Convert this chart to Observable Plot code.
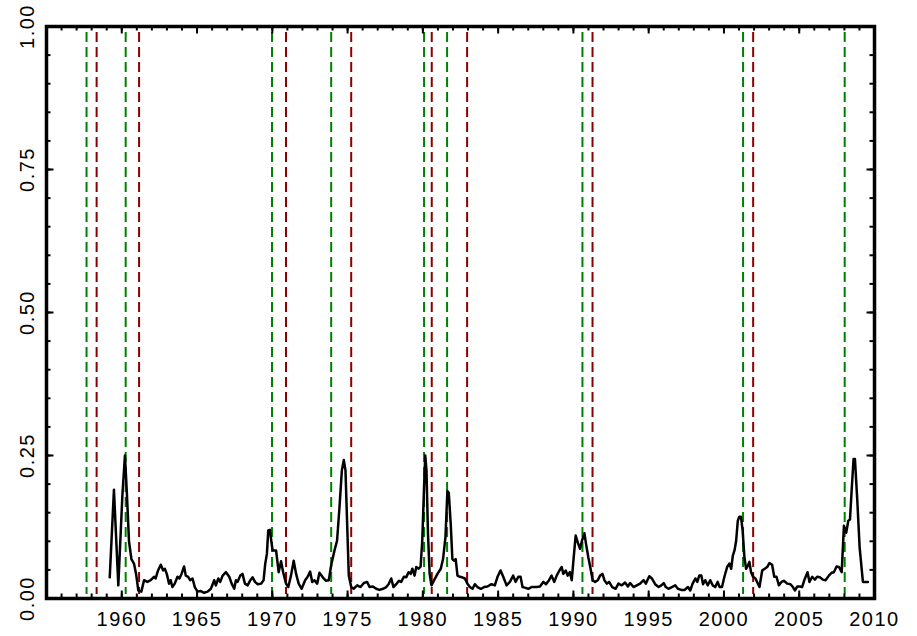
<!DOCTYPE html>
<html><head><meta charset="utf-8">
<script src="https://cdn.jsdelivr.net/npm/d3@7"></script>
<script src="https://cdn.jsdelivr.net/npm/@observablehq/plot@0.6"></script>
<style>body{margin:0;background:#fff}</style>
</head><body><div id="chart"></div>
<script>
const years = [1959.2,1959.48,1959.77,1960.04,1960.21,1960.33,1960.48,1960.64,1960.81,1960.95,1961.1,1961.3,1961.48,1961.7,1961.92,1962.14,1962.25,1962.41,1962.59,1962.75,1962.86,1962.99,1963.14,1963.25,1963.36,1963.52,1963.7,1963.83,1963.97,1964.14,1964.25,1964.41,1964.54,1964.7,1964.85,1965.03,1965.25,1965.47,1965.7,1965.92,1966.14,1966.25,1966.41,1966.54,1966.7,1966.92,1967.14,1967.3,1967.47,1967.58,1967.69,1967.87,1968.02,1968.18,1968.36,1968.54,1968.69,1968.85,1969.03,1969.25,1969.42,1969.53,1969.64,1969.73,1969.84,1969.93,1970.02,1970.25,1970.42,1970.58,1970.72,1970.91,1971.06,1971.24,1971.42,1971.58,1971.75,1971.95,1972.18,1972.35,1972.51,1972.65,1972.8,1972.98,1973.13,1973.35,1973.57,1973.75,1973.91,1974.13,1974.3,1974.46,1974.62,1974.75,1974.86,1974.97,1975.08,1975.24,1975.4,1975.64,1975.86,1976.08,1976.3,1976.46,1976.68,1976.9,1977.12,1977.35,1977.57,1977.72,1977.9,1978.05,1978.23,1978.41,1978.56,1978.74,1978.9,1979.05,1979.19,1979.3,1979.45,1979.56,1979.72,1979.85,1979.96,1980.07,1980.16,1980.24,1980.34,1980.45,1980.57,1980.75,1980.97,1981.19,1981.34,1981.5,1981.63,1981.72,1981.85,1981.96,1982.07,1982.18,1982.3,1982.46,1982.61,1982.79,1982.96,1983.12,1983.3,1983.45,1983.63,1983.85,1984.07,1984.29,1984.56,1984.78,1984.96,1985.16,1985.34,1985.56,1985.78,1986.0,1986.16,1986.34,1986.49,1986.62,1986.77,1987.0,1987.22,1987.56,1987.78,1988.0,1988.18,1988.38,1988.55,1988.73,1988.89,1989.07,1989.22,1989.33,1989.49,1989.62,1989.76,1989.89,1990.02,1990.15,1990.29,1990.44,1990.57,1990.73,1990.84,1990.99,1991.14,1991.28,1991.44,1991.62,1991.77,1991.93,1992.06,1992.22,1992.37,1992.58,1992.8,1992.99,1993.21,1993.43,1993.62,1993.77,1993.99,1994.21,1994.43,1994.66,1994.81,1995.04,1995.21,1995.43,1995.66,1995.84,1996.0,1996.14,1996.31,1996.54,1996.76,1996.94,1997.16,1997.38,1997.61,1997.76,1997.92,1998.1,1998.23,1998.36,1998.5,1998.61,1998.76,1998.92,1999.09,1999.25,1999.42,1999.58,1999.71,1999.87,2000.03,2000.21,2000.36,2000.48,2000.59,2000.7,2000.81,2000.92,2001.02,2001.13,2001.24,2001.36,2001.47,2001.6,2001.69,2001.8,2001.93,2002.09,2002.36,2002.54,2002.71,2002.87,2003.02,2003.2,2003.34,2003.49,2003.65,2003.82,2003.98,2004.2,2004.42,2004.58,2004.71,2004.87,2005.05,2005.19,2005.35,2005.55,2005.68,2005.86,2006.04,2006.19,2006.37,2006.57,2006.75,2006.97,2007.15,2007.3,2007.48,2007.64,2007.82,2007.97,2008.12,2008.26,2008.37,2008.48,2008.61,2008.7,2008.86,2009.01,2009.23,2009.45,2009.56];
const values = [0.037,0.19,0.023,0.18,0.25,0.189,0.10,0.069,0.061,0.043,0.014,0.012,0.032,0.029,0.032,0.038,0.035,0.049,0.059,0.049,0.052,0.043,0.026,0.032,0.020,0.026,0.038,0.035,0.043,0.056,0.040,0.038,0.032,0.035,0.020,0.012,0.013,0.010,0.012,0.017,0.032,0.023,0.035,0.029,0.040,0.046,0.038,0.026,0.017,0.032,0.029,0.040,0.043,0.026,0.023,0.032,0.037,0.029,0.025,0.026,0.032,0.061,0.078,0.119,0.120,0.101,0.084,0.084,0.046,0.065,0.046,0.026,0.020,0.040,0.066,0.043,0.026,0.017,0.032,0.038,0.047,0.029,0.032,0.026,0.045,0.037,0.031,0.032,0.058,0.084,0.101,0.159,0.224,0.242,0.224,0.131,0.040,0.020,0.017,0.023,0.020,0.027,0.029,0.020,0.021,0.017,0.015,0.017,0.020,0.025,0.035,0.020,0.025,0.031,0.029,0.038,0.037,0.046,0.043,0.052,0.040,0.055,0.052,0.056,0.101,0.188,0.250,0.224,0.113,0.043,0.023,0.032,0.043,0.052,0.069,0.107,0.188,0.185,0.131,0.069,0.066,0.069,0.040,0.038,0.037,0.035,0.026,0.020,0.017,0.025,0.020,0.017,0.020,0.021,0.025,0.023,0.038,0.049,0.038,0.023,0.029,0.040,0.029,0.038,0.038,0.020,0.019,0.017,0.020,0.020,0.021,0.029,0.025,0.032,0.040,0.029,0.040,0.049,0.055,0.043,0.049,0.040,0.046,0.032,0.072,0.110,0.098,0.087,0.101,0.114,0.095,0.072,0.052,0.032,0.029,0.032,0.040,0.043,0.032,0.026,0.029,0.020,0.017,0.026,0.023,0.028,0.021,0.027,0.020,0.023,0.026,0.032,0.026,0.039,0.035,0.025,0.020,0.023,0.027,0.020,0.017,0.020,0.023,0.017,0.015,0.015,0.020,0.014,0.026,0.035,0.029,0.040,0.040,0.025,0.032,0.023,0.032,0.023,0.020,0.029,0.020,0.020,0.038,0.055,0.061,0.052,0.075,0.084,0.101,0.136,0.143,0.143,0.119,0.072,0.052,0.058,0.064,0.046,0.038,0.035,0.020,0.049,0.052,0.055,0.062,0.059,0.038,0.038,0.023,0.029,0.031,0.026,0.025,0.020,0.014,0.021,0.021,0.020,0.033,0.046,0.029,0.038,0.033,0.038,0.037,0.033,0.032,0.040,0.045,0.046,0.056,0.055,0.046,0.127,0.115,0.136,0.138,0.188,0.244,0.244,0.170,0.090,0.029,0.029,0.029];
const peaks = [1957.66, 1960.26, 1969.98, 1973.91, 1980.08, 1981.61, 1990.6, 2001.27, 2008.02];
const troughs = [1958.33, 1961.15, 1970.91, 1975.24, 1980.59, 1982.94, 1991.27, 2001.94];
const xTicks = [1960, 1965, 1970, 1975, 1980, 1985, 1990, 1995, 2000, 2005, 2010];
const xMinor = d3.range(1956, 2010);
const yTicks = [0, 0.25, 0.5, 0.75, 1];
const yMinor = d3.range(0.05, 1, 0.05);

const series = years.map((t, i) => ({t, v: values[i]}));

const W = 917, H = 636, mL = 46, mR = 43, mT = 26, mB = 38;
const innerW = W - mL - mR, innerH = H - mT - mB;
const minorLen = 4.5, majorLen = 7.5;

const chart = Plot.plot({
  width: W, height: H,
  marginLeft: mL, marginRight: mR, marginTop: mT, marginBottom: mB,
  style: {fontFamily: "'Liberation Sans', Arial, Helvetica, sans-serif", letterSpacing: "1.5px", background: "#fff", color: "#000"},
  x: {domain: [1955, 2010]},
  y: {domain: [0, 1]},
  marks: [
    Plot.ruleX(peaks, {x: d => d, stroke: "#008000", strokeWidth: 2, strokeDasharray: "10,5", insetTop: 6, insetBottom: 4}),
    Plot.ruleX(troughs, {x: d => d, stroke: "#8b0000", strokeWidth: 2, strokeDasharray: "10,5", insetTop: 6, insetBottom: 4}),
    Plot.line(series, {x: "t", y: "v", stroke: "#000", strokeWidth: 2.5, strokeLinejoin: "round"}),
    // inward ticks on all four sides
    Plot.tickX(xMinor, {x: d => d, insetTop: innerH - minorLen, strokeWidth: 2}),
    Plot.tickX(xMinor, {x: d => d, insetBottom: innerH - minorLen, strokeWidth: 2}),
    Plot.tickX(xTicks, {x: d => d, insetTop: innerH - majorLen, strokeWidth: 2}),
    Plot.tickX(xTicks, {x: d => d, insetBottom: innerH - majorLen, strokeWidth: 2}),
    Plot.tickY(yMinor, {y: d => d, insetRight: innerW - minorLen, strokeWidth: 2}),
    Plot.tickY(yMinor, {y: d => d, insetLeft: innerW - minorLen, strokeWidth: 2}),
    Plot.tickY(yTicks, {y: d => d, insetRight: innerW - majorLen, strokeWidth: 2}),
    Plot.tickY(yTicks, {y: d => d, insetLeft: innerW - majorLen, strokeWidth: 2}),
    Plot.axisX(xTicks, {tickSize: 0, tickPadding: 21, lineAnchor: "middle", fontSize: 20, tickFormat: d => String(d), label: null}),
    Plot.axisY(yTicks, {tickSize: 0, tickPadding: 18.5, tickRotate: -90, textAnchor: "middle", lineAnchor: "middle", fontSize: 20, tickFormat: d3.format(".2f"), label: null}),
    Plot.frame({stroke: "#000", strokeWidth: 3.5})
  ]
});
document.getElementById("chart").appendChild(chart);
</script>
</body></html>
